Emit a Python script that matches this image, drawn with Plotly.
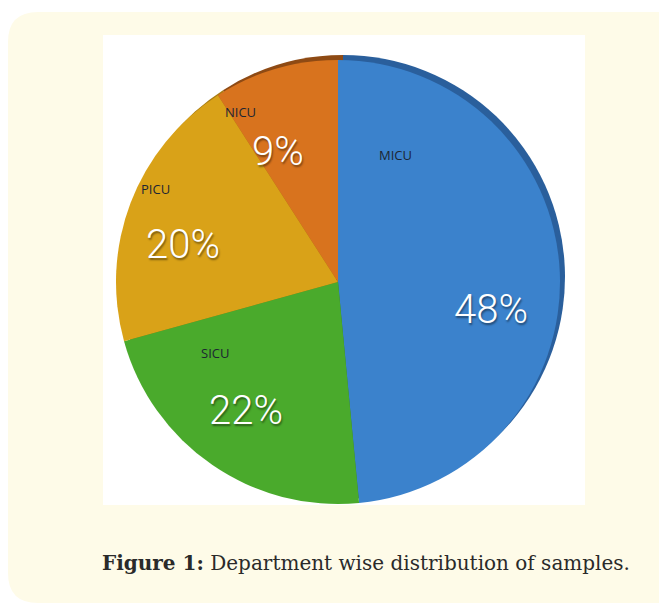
import numpy as np
import plotly.graph_objects as go

# Department wise distribution of samples (%)
departments = ["MICU", "SICU", "PICU", "NICU"]
shares = [48, 22, 20, 9]
colors = ["#3b82cc", "#4aaa2c", "#d9a218", "#d8731e"]
rim_colors = ["#2a5f9c", "#357d20", "#a87c12", "#8e4a14"]

OFF = 8                        # browser body margin
W, H = 667 - OFF, 604 - OFF
CX, CY, R = 338, 282, 222      # pie centre / radius in page px
TX, TY = 336, 298              # reference point for the slice texts
RIM = 5                        # offset of the darker "depth" pie

# text spots inside each slice: (fraction of slice span, fraction of radius)
pct_spot = {"MICU": (0.54, 0.70), "SICU": (0.55, 0.65),
            "PICU": (0.48, 0.73), "NICU": (0.34, 0.71)}
label_spot = {"MICU": (0.13, 0.70), "SICU": (0.89, 0.60),
              "PICU": (0.64, 0.95), "NICU": (0.17, 0.94)}


def px(x):
    return (x - OFF) / W


def py(y):
    return 1 - (y - OFF) / H


def polar(theta_deg, r):
    t = np.radians(theta_deg)
    return TX + r * np.sin(t), TY - r * np.cos(t)


def pie(cols, dx, dy):
    return go.Pie(
        labels=departments, values=shares, sort=False, direction="clockwise",
        rotation=0, marker=dict(colors=cols, line=dict(width=0)),
        textinfo="none", hoverinfo="label+value", showlegend=False,
        domain=dict(x=[px(CX - R + dx), px(CX + R + dx)],
                    y=[py(CY + R + dy), py(CY - R + dy)]),
    )


fig = go.Figure()
fig.add_trace(pie(rim_colors, RIM, -RIM))
fig.add_trace(pie(colors, 0, 0))

# angles of each slice, clockwise from 12 o'clock
vals = np.array(shares, dtype=float)
edges = np.concatenate([[0], np.cumsum(vals)]) / vals.sum() * 360

annotations = []
for i, name in enumerate(departments):
    a0, a1 = edges[i], edges[i + 1]
    f, rf = pct_spot[name]
    x, y = polar(a0 + f * (a1 - a0), rf * R)
    annotations.append(dict(
        x=px(x), y=py(y), xref="paper", yref="paper", showarrow=False,
        xanchor="center", yanchor="middle",
        text=f"{shares[i]}%",
        font=dict(family="Roboto", size=40, color="white", weight=300,
                  shadow="1px 2px 2px rgba(0,0,0,0.45)")))
    f, rf = label_spot[name]
    x, y = polar(a0 + f * (a1 - a0), rf * R)
    annotations.append(dict(
        x=px(x), y=py(y), xref="paper", yref="paper", showarrow=False,
        xanchor="center", yanchor="middle",
        text=name, font=dict(family="Open Sans", size=13, color="#1c2633")))

annotations.append(dict(
    x=px(100), y=py(563), xref="paper", yref="paper",
    xanchor="left", yanchor="middle", showarrow=False,
    text="<b>Figure 1:</b> Department wise distribution of samples.",
    font=dict(family="DejaVu Serif", size=20, color="#2a2a2a")))

# cream rounded panel + white chart area
rx, ry = 30 / W, 30 / H
x0, y0, y1 = max(px(7), 0), py(603), py(12)
panel = (f"M {x0} {y1 - ry} Q {x0} {y1} {x0 + rx} {y1} L 1 {y1} L 1 {y0} "
         f"L {x0 + rx} {y0} Q {x0} {y0} {x0} {y0 + ry} Z")

fig.update_layout(
    width=W, height=H, margin=dict(l=0, r=0, t=0, b=0),
    paper_bgcolor="white", plot_bgcolor="white",
    annotations=annotations,
    shapes=[
        dict(type="path", path=panel, xref="paper", yref="paper",
             fillcolor="#fefbe8", line=dict(width=0), layer="below"),
        dict(type="rect", xref="paper", yref="paper",
             x0=px(103), x1=px(585), y0=py(505), y1=py(35),
             fillcolor="white", line=dict(width=0), layer="below"),
    ],
)

fig.write_html("out.html")
